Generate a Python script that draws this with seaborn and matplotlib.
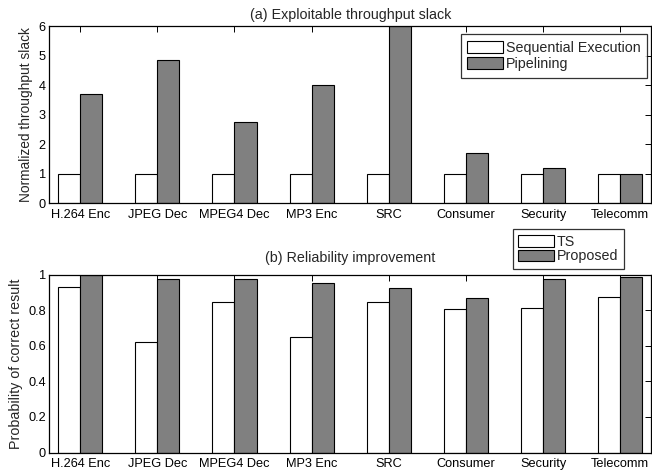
import numpy as np
import pandas as pd
import matplotlib
matplotlib.use("Agg")
import matplotlib.pyplot as plt
from matplotlib.patches import Patch
import seaborn as sns

sns.set_theme(style="white")
plt.rcParams["font.family"] = ["Liberation Sans", "DejaVu Sans"]

benchmarks = ["H.264 Enc", "JPEG Dec", "MPEG4 Dec", "MP3 Enc", "SRC",
              "Consumer", "Security", "Telecomm"]

# (a) throughput slack, normalized to sequential execution
sequential = [1, 1, 1, 1, 1, 1, 1, 1]
pipelining = [3.68, 4.86, 2.73, 4.00, 5.99, 1.70, 1.19, 1.00]

# (b) probability of a correct result
ts = [0.928, 0.622, 0.847, 0.649, 0.843, 0.807, 0.814, 0.875]
proposed = [0.996, 0.976, 0.973, 0.950, 0.923, 0.866, 0.973, 0.987]

GRAY = "#808080"
TICK_FS = 9.2
TITLE_FS = 10.3
LEGEND_FS = 10.3


def long_form(a, b, name_a, name_b):
    return pd.DataFrame({
        "bench": benchmarks * 2,
        "value": list(a) + list(b),
        "series": [name_a] * len(a) + [name_b] * len(b),
    })


def draw(ax, df, order, ylim, yticks, yticklabels, ylabel, label_fs,
         title, title_pad):
    sns.barplot(data=df, x="bench", y="value", hue="series", order=benchmarks,
                hue_order=order, palette=["white", GRAY], width=0.5714,
                gap=0, edgecolor="black", linewidth=0.8, errorbar=None,
                saturation=1, ax=ax, legend=False)
    ax.set_xlim(-0.4, 7.4)
    ax.set_ylim(*ylim)
    ax.set_yticks(yticks)
    ax.set_yticklabels(yticklabels)
    ax.set_xlabel("")
    ax.set_ylabel(ylabel, fontsize=label_fs, labelpad=4)
    ax.tick_params(axis="both", which="both", direction="in", length=4,
                   width=0.7, top=True, right=True, labelsize=TICK_FS,
                   pad=2.5, colors="black")
    ax.tick_params(axis="x", pad=4)
    for s in ax.spines.values():
        s.set_color("black")
        s.set_linewidth(0.9)
    ax.set_title(title, fontsize=TITLE_FS, pad=title_pad)


fig = plt.figure(figsize=(6.52, 4.72), dpi=100)
ax1 = fig.add_axes([0.0756, 0.5699, 0.9230, 0.3750])
ax2 = fig.add_axes([0.0756, 0.0413, 0.9230, 0.3771])

df1 = long_form(sequential, pipelining, "Sequential Execution", "Pipelining")
draw(ax1, df1, ["Sequential Execution", "Pipelining"], (0, 6), range(0, 7),
     [str(v) for v in range(0, 7)], "Normalized throughput slack", 9.9,
     "(a) Exploitable throughput slack", 5)

df2 = long_form(ts, proposed, "TS", "Proposed")
draw(ax2, df2, ["TS", "Proposed"], (0, 1), [0, 0.2, 0.4, 0.6, 0.8, 1],
     ["0", "0.2", "0.4", "0.6", "0.8", "1"], "Probability of correct result",
     10.3, "(b) Reliability improvement", 9.0)


def legend(ax, labels, anchor, spacing, border):
    handles = [Patch(facecolor="white", edgecolor="black", linewidth=0.8),
               Patch(facecolor=GRAY, edgecolor="black", linewidth=0.8)]
    leg = ax.legend(handles, labels, loc="upper left", bbox_to_anchor=anchor,
                    bbox_transform=fig.transFigure, fontsize=LEGEND_FS,
                    frameon=True, fancybox=False, borderaxespad=0,
                    handlelength=2.5, handleheight=0.9, handletextpad=0.2,
                    labelspacing=spacing, borderpad=border)
    leg.get_frame().set_edgecolor("black")
    leg.get_frame().set_linewidth(0.9)
    return leg


legend(ax1, ["Sequential Execution", "Pipelining"],
       (460.7 / 652, 1 - 34.3 / 472), 0.15, 0.46)
legend(ax2, ["TS", "Proposed"], (512.7 / 652, 1 - 229 / 472), 0.05, 0.4)

fig.savefig("out.png", dpi=100)
